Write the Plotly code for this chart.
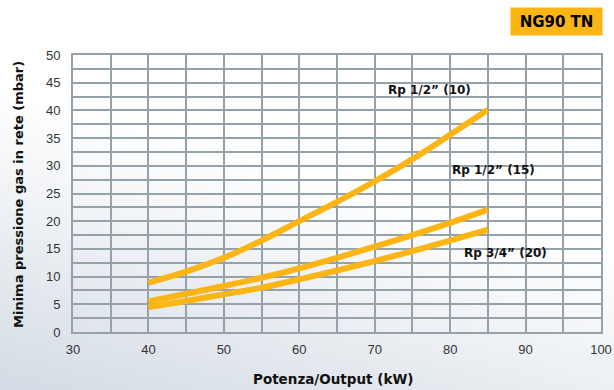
import base64
import plotly.graph_objects as go

power_kw = [40, 45, 50, 55, 60, 65, 70, 75, 80, 85]
rp12_10 = [8.9, 10.9, 13.4, 16.5, 20.0, 23.5, 27.2, 31.2, 35.6, 40.1]
rp12_15 = [5.5, 6.9, 8.3, 9.8, 11.5, 13.4, 15.4, 17.5, 19.7, 22.1]
rp34_20 = [4.5, 5.6, 6.8, 8.0, 9.5, 11.1, 12.8, 14.6, 16.5, 18.5]

series_names = ["Rp 1/2\u201d (10)", "Rp 1/2\u201d (15)", "Rp 3/4\u201d (20)"]
label_x = [77.3, 85.7, 87.4]
label_y = [43.6, 29.3, 14.2]

x_ticks = [30, 40, 50, 60, 70, 80, 90, 100]
y_ticks = [0, 5, 10, 15, 20, 25, 30, 35, 40, 45, 50]

ORANGE = "#fbb515"
GRID = "#95a2a9"

W, H = 614, 390
ML, MR, MT, MB = 73, 13, 55, 58
PW, PH = W - ML - MR, H - MT - MB


def px_x(p):
    return (p - ML) / PW


def px_y(p):
    return (H - MB - p) / PH


svg = (
    '<svg xmlns="http://www.w3.org/2000/svg" width="614" height="390">'
    '<defs><linearGradient id="g" x1="0" y1="1" x2="0.28" y2="0.35">'
    '<stop offset="0" stop-color="#d3dbe4"/><stop offset="1" stop-color="#ffffff"/>'
    '</linearGradient></defs>'
    '<rect width="614" height="390" fill="url(#g)"/></svg>'
)
bg_src = "data:image/svg+xml;base64," + base64.b64encode(svg.encode()).decode()

fig = go.Figure()
for ys, name in zip([rp12_10, rp12_15, rp34_20], series_names):
    fig.add_trace(go.Scatter(x=power_kw, y=ys, mode="lines", name=name,
                             line=dict(color=ORANGE, width=6, shape="spline"),
                             showlegend=False))

for name, lx, ly in zip(series_names, label_x, label_y):
    fig.add_annotation(x=lx, y=ly, text="<b>" + name + "</b>", showarrow=False,
                       font=dict(family="DejaVu Sans", size=12, color="#111"),
                       xanchor="center", yanchor="middle")

fig.add_annotation(xref="paper", yref="paper", x=px_x(603), y=px_y(21.5),
                   text="<b>NG90 TN</b>", showarrow=False, bgcolor=ORANGE,
                   width=89, height=25, borderpad=1,
                   font=dict(family="DejaVu Sans", size=15, color="#000"),
                   xanchor="right", yanchor="middle")

fig.add_annotation(xref="paper", yref="paper", x=px_x(333), y=px_y(379),
                   text="<b>Potenza/Output (kW)</b>", showarrow=False,
                   font=dict(family="DejaVu Sans", size=13.5, color="#111"),
                   xanchor="center", yanchor="middle")
fig.add_annotation(xref="paper", yref="paper", x=px_x(18), y=px_y(195),
                   text="<b>Minima pressione gas in rete (mbar)</b>", showarrow=False,
                   textangle=-90,
                   font=dict(family="DejaVu Sans", size=13, color="#111"),
                   xanchor="center", yanchor="middle")

fig.add_layout_image(source=bg_src, xref="paper", yref="paper",
                     x=-ML / PW, y=1 + MT / PH, sizex=W / PW, sizey=H / PH,
                     xanchor="left", yanchor="top", sizing="stretch", layer="below")

fig.update_layout(
    width=W, height=H,
    margin=dict(l=ML, r=MR, t=MT, b=MB, autoexpand=False),
    paper_bgcolor="white", plot_bgcolor="#e6e9ec",
    font=dict(family="Liberation Sans", size=13, color="#333"),
)
fig.update_xaxes(range=[30, 100], tickvals=x_ticks, ticks="", showgrid=True,
                 gridcolor=GRID, gridwidth=1.5, automargin=False,
                 ticklabelstandoff=4,
                 minor=dict(dtick=5, showgrid=True, gridcolor=GRID, gridwidth=1.5),
                 showline=True, linecolor=GRID, linewidth=2, mirror=True, zeroline=False)
fig.update_yaxes(range=[0, 50], tickvals=y_ticks, ticks="", showgrid=True,
                 gridcolor=GRID, gridwidth=1.5, automargin=False,
                 minor=dict(dtick=2.5, showgrid=True, gridcolor=GRID, gridwidth=1.5),
                 showline=True, linecolor=GRID, linewidth=2, mirror=True, zeroline=False,
                 ticklabelstandoff=8)

fig.write_html("out.html", config={"displayModeBar": False},
               post_script="document.body.style.margin='0';document.body.style.padding='0';")
